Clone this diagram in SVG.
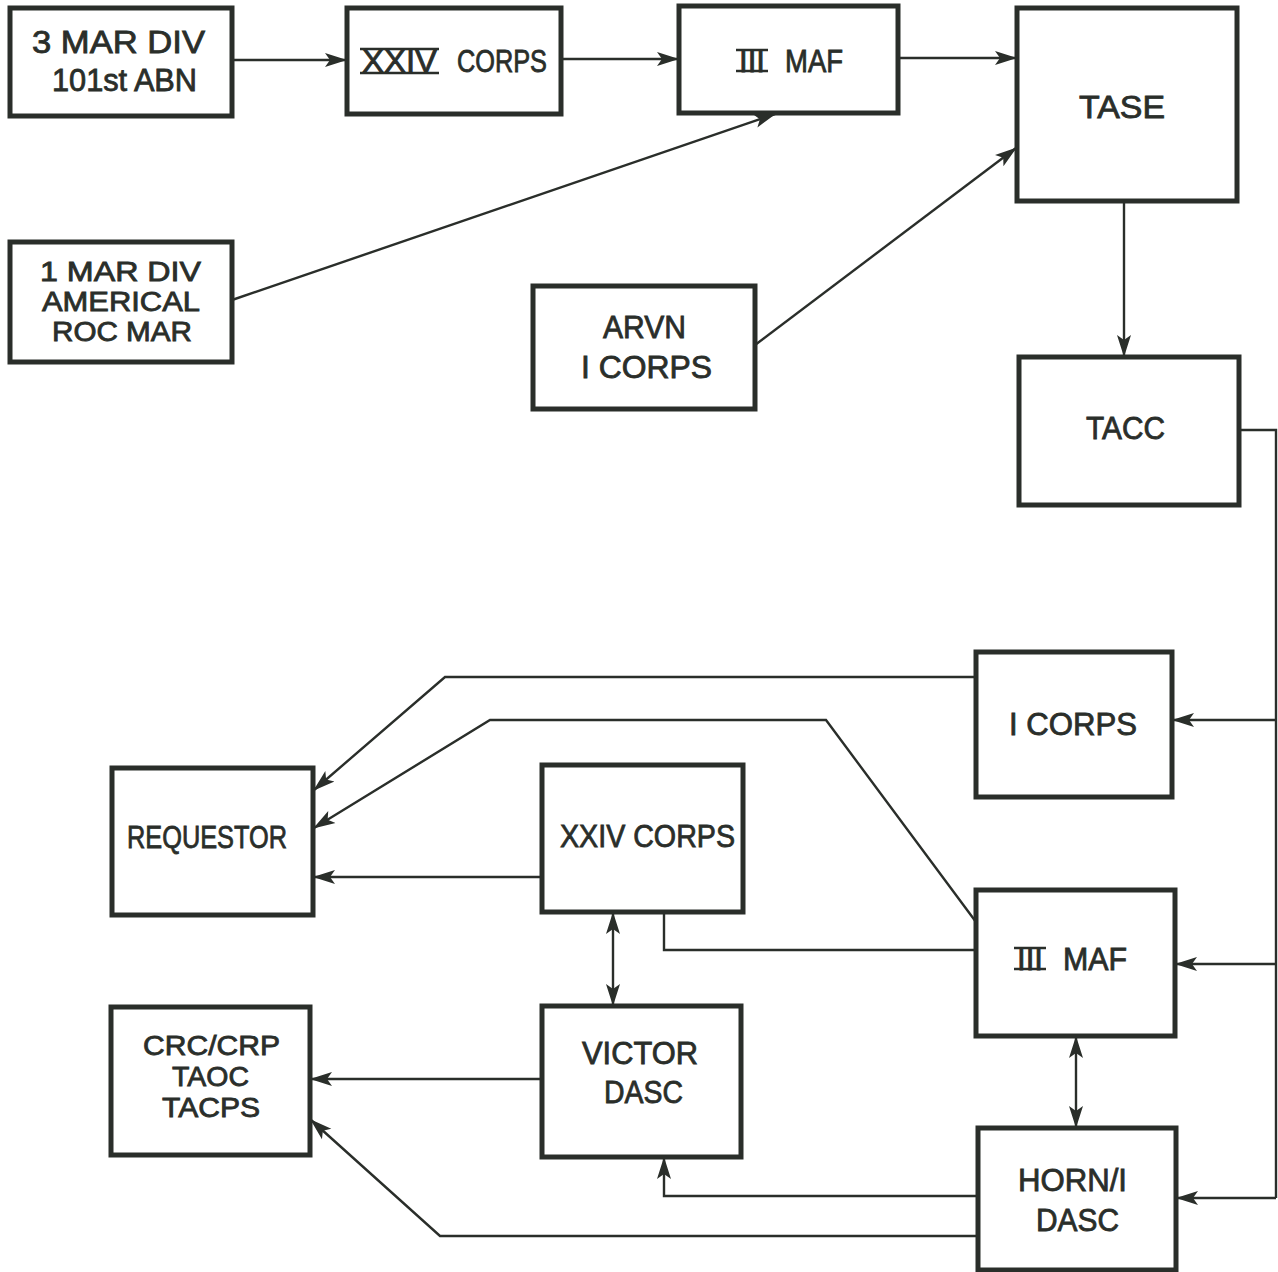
<svg xmlns="http://www.w3.org/2000/svg" width="1278" height="1272" viewBox="0 0 1278 1272">
<defs>
<marker id="ah" markerUnits="userSpaceOnUse" markerWidth="24" markerHeight="16" refX="21" refY="8" orient="auto-start-reverse" viewBox="0 0 24 16">
<path d="M0,1 L22,8 L0,15 L5,8 Z" fill="#2a2e2a"/>
</marker>
<style>
.box{fill:#fff;stroke:#2a2e2a;stroke-width:5}
.lbl{font-family:"Liberation Sans",Arial,sans-serif;font-size:31px;fill:#2a2e2a;stroke:#2a2e2a;stroke-width:0.8}
.sm{font-size:27px}
.c{fill:none;stroke:#2a2e2a;stroke-width:2.4}
.a{marker-end:url(#ah)}
.d{marker-start:url(#ah);marker-end:url(#ah)}
.bar{stroke:#2a2e2a;stroke-width:2.5}
</style>
</defs>
<rect width="1278" height="1272" fill="#fff"/>
<g id="connectors">
<line class="c a" x1="232" y1="60" x2="346" y2="60"/>
<line class="c a" x1="561" y1="59" x2="678" y2="59"/>
<line class="c a" x1="898" y1="58" x2="1016" y2="58"/>
<line class="c a" x1="232" y1="300" x2="775" y2="114"/>
<line class="c a" x1="755" y1="345" x2="1016" y2="148"/>
<line class="c a" x1="1124" y1="201" x2="1124" y2="356"/>
<polyline class="c" points="1239,430 1276,430 1276,1198"/>
<line class="c a" x1="1276" y1="720" x2="1173" y2="720"/>
<line class="c a" x1="1276" y1="964" x2="1176" y2="964"/>
<line class="c a" x1="1276" y1="1198" x2="1177" y2="1198"/>
<polyline class="c a" points="976,677 445,677 314,790"/>
<polyline class="c a" points="976,922 826,720 490,720 314,828"/>
<line class="c a" x1="542" y1="877" x2="314" y2="877"/>
<polyline class="c" points="664,912 664,950 976,950"/>
<line class="c d" x1="613" y1="913" x2="613" y2="1005"/>
<line class="c d" x1="1076" y1="1037" x2="1076" y2="1127"/>
<line class="c a" x1="542" y1="1079" x2="311" y2="1079"/>
<polyline class="c a" points="978,1196 664,1196 664,1158"/>
<polyline class="c a" points="978,1236 440,1236 311,1120"/>
</g>
<g id="n-3mardiv">
<rect class="box" x="10" y="8" width="222" height="108"/>
<text class="lbl" x="32" y="53" textLength="173" lengthAdjust="spacingAndGlyphs">3 MAR  DIV</text>
<text class="lbl" x="52" y="91" textLength="145" lengthAdjust="spacingAndGlyphs">101st ABN</text>
</g>
<g id="n-xxivcorps-top">
<rect class="box" x="347" y="8" width="214" height="106"/>
<text class="lbl" x="362" y="72" textLength="75" lengthAdjust="spacingAndGlyphs">XXIV</text>
<line class="bar" x1="360" y1="49" x2="439" y2="49"/>
<line class="bar" x1="360" y1="73" x2="439" y2="73"/>
<text class="lbl" x="457" y="72" textLength="90" lengthAdjust="spacingAndGlyphs">CORPS</text>
</g>
<g id="n-iiimaf-top">
<rect class="box" x="679" y="6" width="219" height="107"/>
<text class="lbl" x="739" y="72" textLength="26" lengthAdjust="spacingAndGlyphs">III</text>
<line class="bar" x1="736" y1="50" x2="768" y2="50"/>
<line class="bar" x1="736" y1="71" x2="768" y2="71"/>
<text class="lbl" x="785" y="72" textLength="58" lengthAdjust="spacingAndGlyphs">MAF</text>
</g>
<g id="n-tase">
<rect class="box" x="1017" y="8" width="220" height="193"/>
<text class="lbl" x="1079" y="118" textLength="86" lengthAdjust="spacingAndGlyphs">TASE</text>
</g>
<g id="n-1mardiv">
<rect class="box" x="10" y="242" width="222" height="120"/>
<text class="lbl sm" x="40" y="281" textLength="161" lengthAdjust="spacingAndGlyphs">1 MAR DIV</text>
<text class="lbl sm" x="42" y="311" textLength="158" lengthAdjust="spacingAndGlyphs">AMERICAL</text>
<text class="lbl sm" x="52" y="341" textLength="140" lengthAdjust="spacingAndGlyphs">ROC MAR</text>
</g>
<g id="n-arvn">
<rect class="box" x="533" y="286" width="222" height="123"/>
<text class="lbl" x="603" y="338" textLength="83" lengthAdjust="spacingAndGlyphs">ARVN</text>
<text class="lbl" x="581" y="378" textLength="131" lengthAdjust="spacingAndGlyphs">I CORPS</text>
</g>
<g id="n-tacc">
<rect class="box" x="1019" y="357" width="220" height="148"/>
<text class="lbl" x="1086" y="439" textLength="79" lengthAdjust="spacingAndGlyphs">TACC</text>
</g>
<g id="n-icorps">
<rect class="box" x="976" y="652" width="196" height="145"/>
<text class="lbl" x="1009" y="735" textLength="128" lengthAdjust="spacingAndGlyphs">I CORPS</text>
</g>
<g id="n-requestor">
<rect class="box" x="112" y="768" width="201" height="147"/>
<text class="lbl" x="127" y="848" textLength="160" lengthAdjust="spacingAndGlyphs">REQUESTOR</text>
</g>
<g id="n-xxivcorps-mid">
<rect class="box" x="542" y="765" width="201" height="147"/>
<text class="lbl" x="560" y="847" textLength="175" lengthAdjust="spacingAndGlyphs">XXIV CORPS</text>
</g>
<g id="n-iiimaf-mid">
<rect class="box" x="976" y="890" width="199" height="146"/>
<text class="lbl" x="1017" y="970" textLength="26" lengthAdjust="spacingAndGlyphs">III</text>
<line class="bar" x1="1014" y1="948" x2="1046" y2="948"/>
<line class="bar" x1="1014" y1="969" x2="1046" y2="969"/>
<text class="lbl" x="1063" y="970" textLength="64" lengthAdjust="spacingAndGlyphs">MAF</text>
</g>
<g id="n-crc">
<rect class="box" x="111" y="1007" width="199" height="148"/>
<text class="lbl sm" x="143" y="1055" textLength="137" lengthAdjust="spacingAndGlyphs">CRC/CRP</text>
<text class="lbl sm" x="172" y="1086" textLength="77" lengthAdjust="spacingAndGlyphs">TAOC</text>
<text class="lbl sm" x="162" y="1117" textLength="98" lengthAdjust="spacingAndGlyphs">TACPS</text>
</g>
<g id="n-victor">
<rect class="box" x="542" y="1006" width="199" height="151"/>
<text class="lbl" x="582" y="1064" textLength="116" lengthAdjust="spacingAndGlyphs">VICTOR</text>
<text class="lbl" x="604" y="1103" textLength="79" lengthAdjust="spacingAndGlyphs">DASC</text>
</g>
<g id="n-horn">
<rect class="box" x="978" y="1128" width="198" height="142"/>
<text class="lbl" x="1018" y="1191" textLength="109" lengthAdjust="spacingAndGlyphs">HORN/I</text>
<text class="lbl" x="1036" y="1231" textLength="83" lengthAdjust="spacingAndGlyphs">DASC</text>
</g>
</svg>
